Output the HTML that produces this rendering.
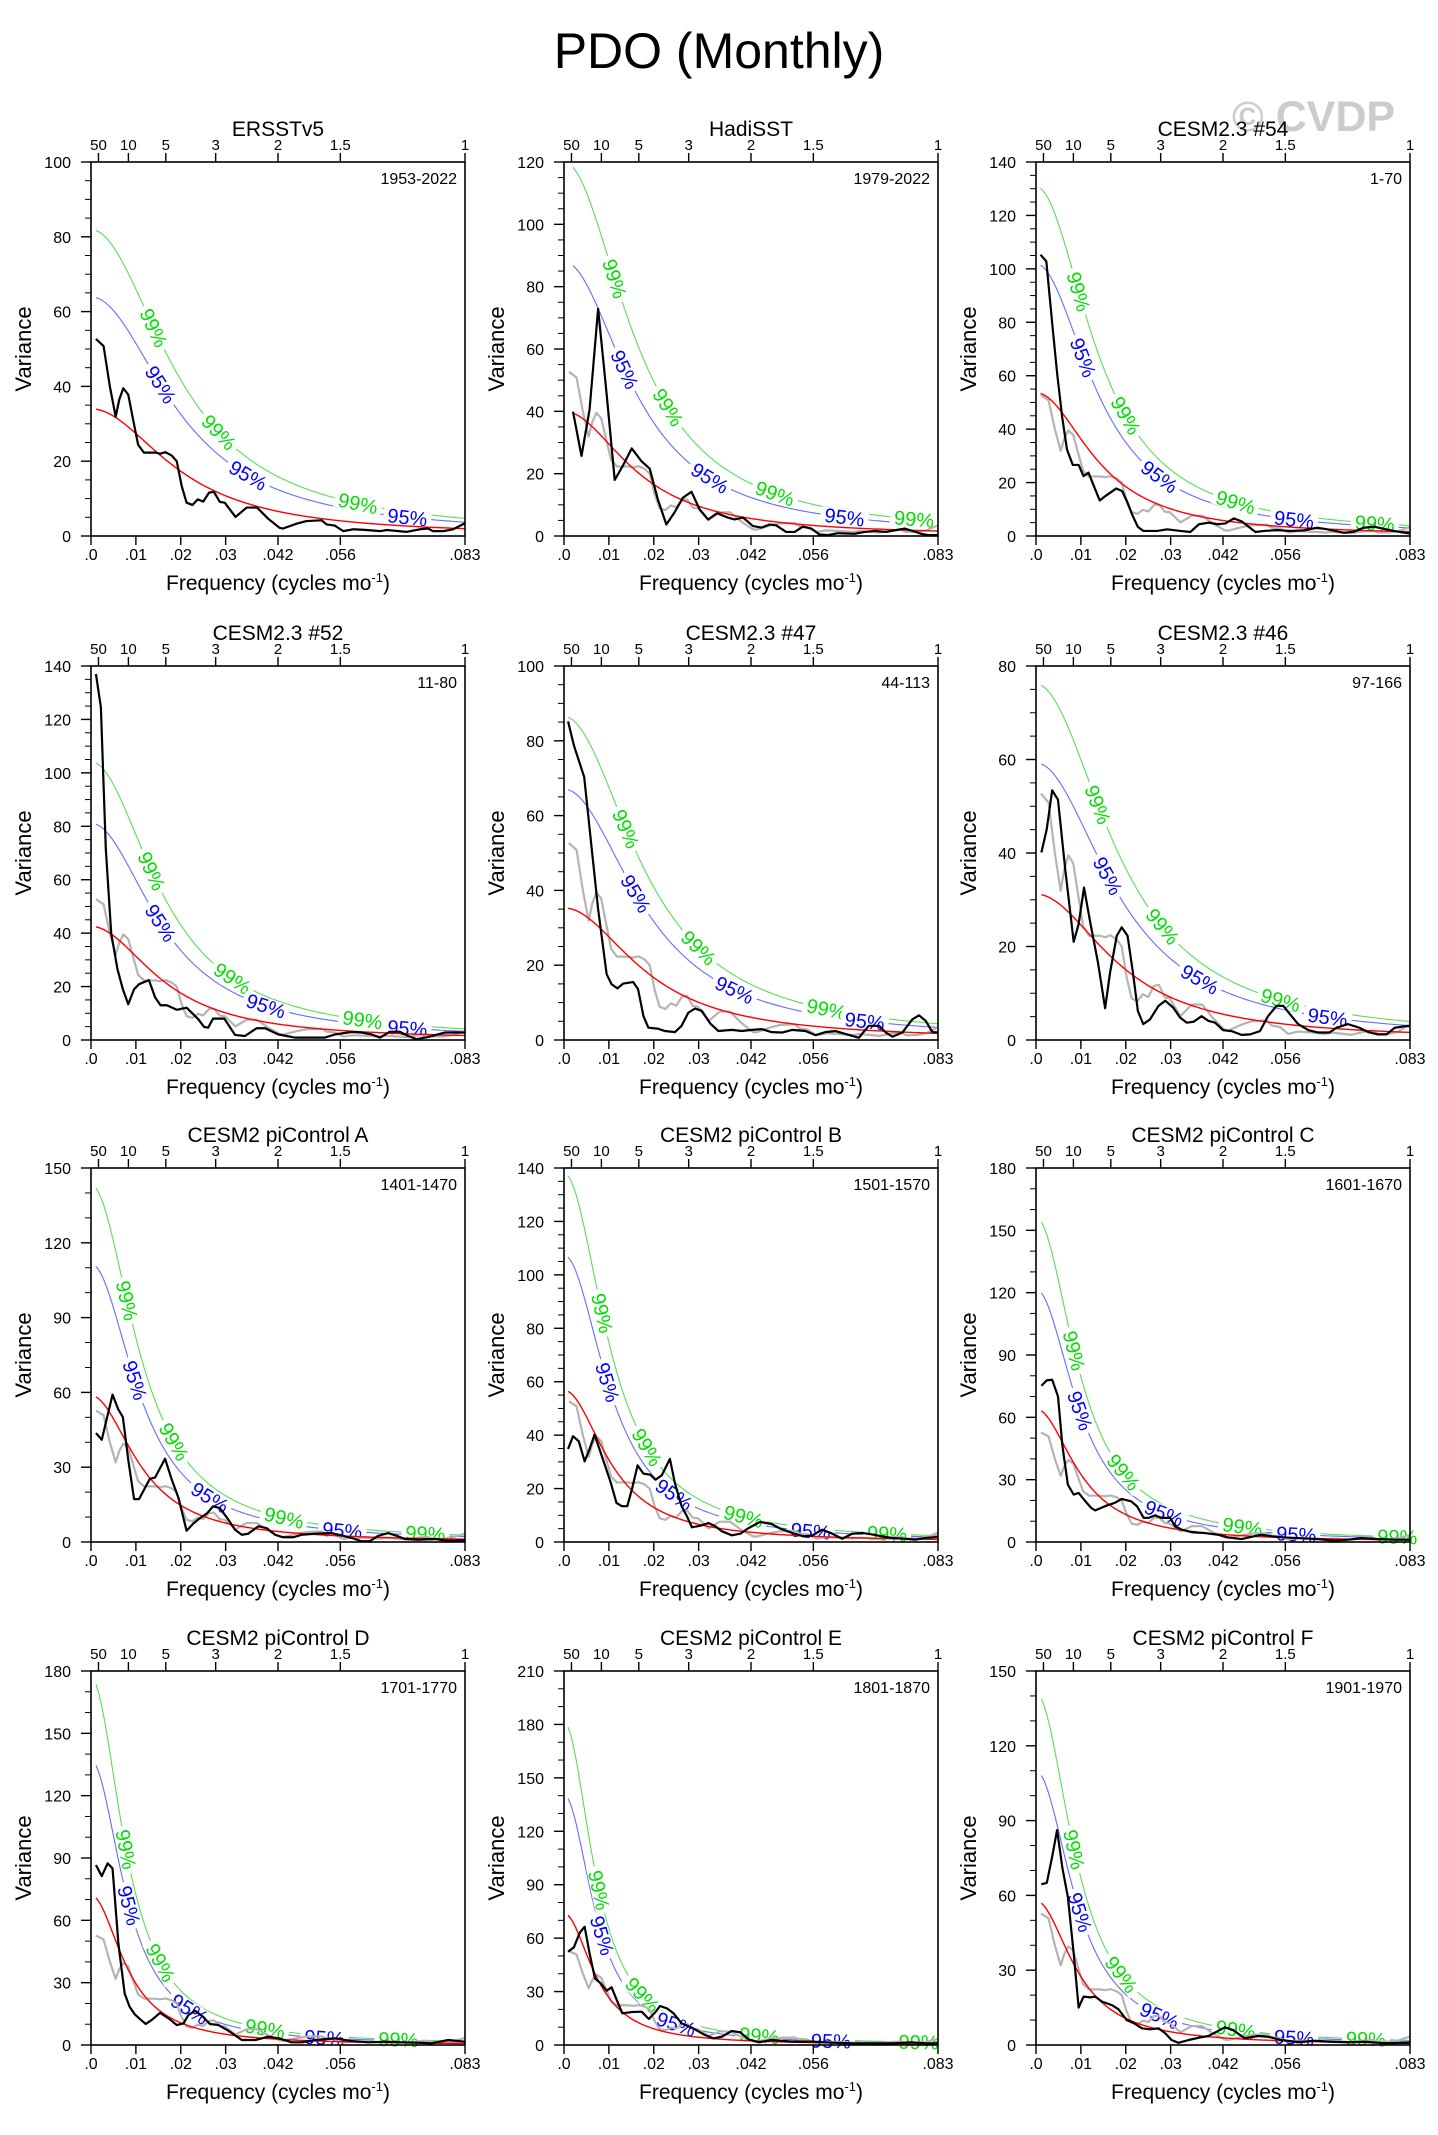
<!DOCTYPE html>
<html><head><meta charset="utf-8"><title>PDO (Monthly)</title>
<style>
html,body{margin:0;padding:0;background:#fff;}
svg{display:block;font-family:"Liberation Sans",Arial,sans-serif;}
</style></head>
<body>
<svg id="fig" xmlns="http://www.w3.org/2000/svg" width="1438" height="2135" viewBox="0 0 1438 2135">
<rect x="0" y="0" width="1438" height="2135" fill="#fff"/>
<text x="1232" y="131" font-size="43" font-weight="bold" fill="#cccccc">© CVDP</text>
<text x="719" y="68" font-size="50" text-anchor="middle" fill="#000">PDO (Monthly)</text>
</svg>
<script>
// ---- chart data ----
const titles=["ERSSTv5","HadiSST","CESM2.3 #54","CESM2.3 #52","CESM2.3 #47","CESM2.3 #46","CESM2 piControl A","CESM2 piControl B","CESM2 piControl C","CESM2 piControl D","CESM2 piControl E","CESM2 piControl F"];
const ranges=["1953-2022","1979-2022","1-70","11-80","44-113","97-166","1401-1470","1501-1570","1601-1670","1701-1770","1801-1870","1901-1970"];
const yMax=[100,120,140,140,100,80,150,140,180,180,210,150];
const yStep=[20,20,20,20,20,20,30,20,30,30,30,30];
const redS0=[34,40,53.6,42.5,35.3,31.2,58.7,56.8,64,72.1,73.9,57.8];
const redLag=[0.88,0.90,0.913,0.90,0.888,0.886,0.93,0.934,0.938,0.949,0.954,0.942];
const c95=[1.88,2.2,1.9,1.91,1.9,1.9,1.9,1.89,1.9,1.9,1.9,1.9];
const c99=[2.41,3.0,2.44,2.45,2.45,2.44,2.44,2.43,2.44,2.45,2.45,2.44];
const bottomTickVals=[0,0.01,0.02,0.03,1/24,1/18,1/12];
const bottomTickLabels=[".0",".01",".02",".03",".042",".056",".083"];
const topTickPeriods=[50,10,5,3,2,1.5,1];
const topTickLabels=["50","10","5","3","2","1.5","1"];

const f1=[.0011,.0028,.0042,.0055,.0063,.0072,.0083,.0094,.0105,.0118,.0143,.0154,.0166,.018,.0191,.0202,.0213,.0226,.0238,.025,.0263,.0274,.0287,.0298,.0322,.0347,.037,.0395,.042,.0428,.0458,.048,.0514,.0525,.0543,.0562,.0584,.0614,.0644,.0659,.0703,.0733,.0751,.0762,.0785,.0807,.0833];
const v1=[52.7,50.8,40,31.9,36.5,39.5,37.8,31,24.4,22.3,22.3,22,22.4,21.5,20,13.4,8.9,8.3,9.8,9.2,11.6,11.8,9.1,8.9,5.1,7.6,7.6,4.6,2.2,2.0,3.3,4,4.2,3.1,2.8,1.3,1.8,1.6,1.3,1.6,1.1,1.8,2,1.3,1.3,1.8,3.4];
const f2=[.002,.0039,.0057,.0076,.0094,.0113,.0131,.0151,.0172,.0191,.0209,.0228,.0246,.0265,.0284,.0302,.0321,.0341,.0365,.038,.0399,.0421,.044,.0458,.0473,.0495,.0514,.0532,.0551,.0569,.0588,.061,.0647,.067,.0692,.0718,.0736,.0759,.0777,.0796,.0811,.0833];
const v2=[39.9,25.7,40.6,72.9,47,18,22.5,28.1,24.1,21.6,11.8,3.7,7.5,12.3,14.2,8.6,5.3,7.3,5.9,5.3,5.9,3.2,2.7,3.7,3.4,1.3,1.3,3,2.4,.5,.3,.9,.7,1.3,1.6,1.3,1.8,2.4,1.6,.7,.3,.3];
const f3=[.001,.0023,.0036,.0047,.0058,.0069,.0082,.0095,.0106,.0117,.0129,.0142,.0155,.0179,.0192,.0203,.0214,.0227,.0239,.027,.0292,.0322,.0344,.0363,.0385,.0404,.0422,.0441,.0459,.0489,.0508,.0537,.0567,.0597,.0626,.0649,.0686,.0708,.073,.0753,.0775,.0797,.0833];
const v3=[105.3,102.8,79.8,61,44.9,32.4,26.6,26.6,22.4,23.7,18.7,13.3,15,17.8,16.8,12.8,8.1,3.4,1.9,1.9,2.5,1.9,1.5,4.4,5,4.4,4.7,6.6,5.4,1.5,1.9,2.2,1.9,2.1,3.1,2.5,1.2,1.6,3.1,3.5,2.7,1.9,.9];
const f4=[.0011,.0022,.0033,.0045,.0059,.0071,.0083,.0096,.0107,.0129,.0143,.0155,.0169,.0191,.0213,.0239,.0252,.0261,.0272,.0297,.0321,.0343,.0369,.0388,.0417,.0454,.0521,.0544,.0581,.0603,.0625,.0644,.0666,.0688,.0707,.0725,.0751,.0788,.0833];
const v4=[137,124.6,71.5,40,26.5,19,13.4,19,20.9,22.4,15.9,13,13,11.3,12.1,7.8,4.9,4.6,8,8,1.9,1.5,4.4,4.4,2.1,.9,.9,2.1,3,2.8,2.1,.9,3.1,3.1,1.5,.3,1.1,2.8,2.8];
const f5=[.0009,.0022,.0045,.0061,.0076,.0095,.0106,.0119,.0132,.0154,.0165,.0177,.0188,.021,.0225,.0247,.0262,.0277,.0292,.0307,.0326,.0344,.0374,.0396,.0419,.0441,.0463,.0486,.0508,.0538,.056,.0582,.0605,.0631,.0657,.0679,.0702,.0717,.0732,.0754,.0776,.0791,.0806,.0821,.0833];
const v5=[85.2,78.8,70.3,52,35,17.6,14.9,13.8,15.1,15.5,13.6,6.4,3.3,3,2.4,2.1,3.8,7.3,8.4,7.8,4.4,2.4,2.7,2.4,2.7,2.9,2.1,2,2.7,2.4,1.3,2.1,2.4,1.5,.6,3.8,3.8,2,.9,2,5.5,6.6,5.1,2.1,2];
const f6=[.0012,.0024,.0036,.0049,.0065,.0084,.0095,.0107,.0121,.0138,.0154,.0165,.018,.0191,.0204,.0216,.0227,.0239,.0254,.0273,.0288,.0306,.0321,.0336,.0351,.0369,.0384,.0399,.0417,.0436,.0458,.0477,.0499,.0517,.0536,.0551,.0566,.0584,.0607,.0629,.0654,.0669,.0695,.0721,.074,.0762,.0781,.0799,.0818,.0833];
const v6=[40.1,45.1,53.4,51.4,36.6,21,24.8,32.6,25.1,16.6,6.8,14.4,22.3,24.1,22.3,14.4,6.2,3.4,4.4,7.3,8.4,6.9,4.8,3.7,3.9,5.1,4.1,3.7,2.1,1.9,1.1,1.2,1.9,5.1,7.3,7.3,5.5,3.4,2.1,1.6,1.6,2.6,3.4,2.6,1.7,1.2,1.2,2.6,2.9,3];
const f7=[.0011,.0024,.0048,.0061,.0071,.0083,.0096,.0107,.0131,.0143,.0165,.018,.0195,.0213,.0228,.0243,.0258,.0272,.0287,.0306,.0321,.0336,.035,.0373,.0391,.041,.0428,.0451,.0469,.0499,.0536,.0562,.0581,.0603,.0621,.064,.0662,.0681,.0699,.0729,.0766,.0796,.0833];
const v7=[43.7,41,59.1,53.1,50.1,33,17.2,17.2,25.3,25.9,33.4,25,17.6,4.5,7.4,9.6,11.4,14.3,13.6,9,4.9,2.9,3.3,6.3,5.6,2.9,1.9,1.9,2.9,3.3,3.6,2.5,1.6,.3,.3,2.5,3.6,2.5,1.2,.9,1.2,.5,.7];
const f8=[.0009,.002,.0033,.0046,.0057,.0068,.0082,.0104,.0117,.0129,.0141,.0152,.0164,.0177,.0192,.0204,.0218,.0236,.0247,.0262,.0274,.0285,.0304,.0322,.0337,.0352,.0374,.0393,.0411,.0437,.0463,.0482,.0508,.0534,.0553,.0575,.0594,.062,.0642,.0665,.0691,.0709,.0731,.0761,.0783,.0806,.0833];
const v8=[34.8,39.6,37.7,30.2,34.8,40.2,33.3,22.3,14.6,13.4,13.4,20.2,28.7,25.6,25.2,23.3,25,31.1,22.1,13.4,9.6,5.5,6.1,7.1,5.9,4,2.5,3.1,5.2,7.5,6.7,5,3.4,2.1,2.4,4.6,3.4,1.2,3.1,3.4,2.7,2.1,1.5,1.2,.9,1.5,1.9];
const f9=[.0012,.0024,.0036,.0049,.0059,.0071,.0084,.0095,.011,.0123,.0132,.0158,.0175,.0191,.0212,.0225,.024,.0251,.0265,.028,.0299,.031,.0325,.0347,.0376,.0406,.0428,.0458,.0484,.0502,.0525,.0554,.0584,.0628,.0666,.0695,.0725,.0762,.0799,.0833];
const v9=[75.2,77.8,78.1,70.1,46,27.6,22.8,23.6,19.6,16.4,15.2,17.6,18.8,20.7,19.6,17.2,11.6,11.6,12.8,11.6,11.6,7.5,5.9,4.7,4.3,3.5,2.2,1.4,2.7,3.5,2.7,2.2,1.9,1.4,.6,1.1,1.9,1.4,1.1,1.1];
const f10=[.0011,.0024,.0037,.0048,.0061,.0075,.0086,.0097,.011,.0122,.0135,.0154,.0173,.0191,.0206,.0217,.0232,.0248,.0265,.0284,.0306,.0336,.0366,.0395,.0418,.0447,.047,.0499,.0544,.0581,.0618,.0655,.0692,.073,.0759,.0796,.0833];
const v10=[86.6,81.3,87.4,85,48.9,24.8,18.4,14.9,12.3,10.1,12,15.5,12.8,9.6,10.4,14.4,16.5,13.9,10.1,9.6,6.9,2.4,2.4,4,3.2,1.3,1.3,2.4,3.2,1.9,1.3,1.6,1.3,1.1,.8,2.4,1.6];
const f11=[.0009,.0022,.0035,.0046,.0057,.0069,.0082,.0095,.0106,.0117,.013,.0151,.0173,.0189,.0203,.0214,.0229,.0244,.0262,.0285,.0314,.0333,.0352,.0374,.0393,.0411,.0434,.0463,.0508,.0553,.0598,.0642,.0687,.0732,.0776,.0806,.0833];
const v11=[52.4,54.8,63,66.4,51.4,37.4,34.6,30.5,32.4,25.6,17.8,18.5,18.7,14.6,18.3,21.9,20.6,17.8,12.2,9.7,5.6,3.7,4.7,7.9,7.1,3.2,1.5,2.8,1.9,1.9,1.3,.9,.9,.9,1.5,.9,.9];
const f12=[.0012,.0024,.0036,.0047,.0059,.0071,.0084,.0095,.0106,.0121,.0132,.0147,.0169,.0184,.0202,.0217,.0236,.0254,.0273,.0288,.0302,.0317,.034,.0362,.0384,.0402,.0421,.0439,.0465,.0495,.0517,.0547,.0584,.0621,.0658,.0695,.0732,.0777,.0833];
const v12=[64.5,65,75.5,86.2,70.8,59.4,36.7,15,19.4,19.1,19.4,17.4,16,14.3,10,8.9,6.7,6.3,6.7,4.7,2,.9,2,2.9,3.6,5.3,7.1,6,2.7,3.6,3.3,2,1.1,1.7,1.3,1.1,1.3,.7,.9];

const lab99=[[.014,.0285,.0595],[.0113,.0232,.047,.078],[.0095,.02,.0445,.0755],[.0135,.0315,.0605],[.0138,.03,.0585],[.0138,.0282,.0545],[.008,.0185,.043,.0745],[.0085,.0185,.04,.072],[.0085,.0195,.046,.0805],[.0078,.0155,.0388,.0685],[.0078,.0175,.0435,.079],[.0085,.019,.0445,.0735]];
const lab95=[[.0155,.035,.0705],[.0135,.0325,.0625],[.0105,.0275,.0575],[.0155,.039,.0705],[.016,.038,.067],[.016,.0365,.065],[.0098,.0265,.056],[.0097,.0245,.055],[.0098,.0285,.058],[.0085,.022,.052],[.0085,.025,.0595],[.0098,.0275,.0575]];

const freqSets=[f1,f2,f3,f4,f5,f6,f7,f8,f9,f10,f11,f12];
const valSets=[v1,v2,v3,v4,v5,v6,v7,v8,v9,v10,v11,v12];

// ---- layout ----
const NS="http://www.w3.org/2000/svg";
const svg=document.getElementById('fig');
const colX=[91,564,1036], rowY=[162,666,1168,1671];
const PW=374, PH=374, FMAX=1/12;

function mk(tag,attrs,parent,text){
  const e=document.createElementNS(NS,tag);
  for(const k in attrs) e.setAttribute(k,attrs[k]);
  if(text!==undefined) e.textContent=text;
  (parent||svg).appendChild(e);
  return e;
}
function redVal(p,f){
  const r=redLag[p];
  return redS0[p]*(1-r)*(1-r)/(1+r*r-2*r*Math.cos(2*Math.PI*f));
}

for(let p=0;p<12;p++){
  const L=colX[p%3], T=rowY[Math.floor(p/3)];
  const xS=f=>L+f/FMAX*PW;
  const yS=v=>T+PH-v/yMax[p]*PH;
  const g=mk('g',{});
  
  
  const fr=freqSets[p], vr=valSets[p];
  const f0=fr[0];

  const curvePath=(mult)=>{
    let d='';
    for(let k=0;k<=140;k++){const f=f0+(FMAX-f0)*k/140;d+=(k?'L':'M')+xS(f).toFixed(2)+' '+yS(redVal(p,f)*mult).toFixed(2);}
    return d;
  };
  const l99=mk('path',{d:curvePath(c99[p]),fill:'none',stroke:'#55e055','stroke-width':1.1},g);
  
  
  const l95=mk('path',{d:curvePath(c95[p]),fill:'none',stroke:'#6a6aff','stroke-width':1.1},g);
  
  

  const addLabels=(list,mult,txt,col,nm)=>{
    list.forEach(fl=>{
      const x=xS(fl), y=yS(redVal(p,fl)*mult);
      const x1=xS(fl-0.0006), y1=yS(redVal(p,fl-0.0006)*mult);
      const x2=xS(fl+0.0006), y2=yS(redVal(p,fl+0.0006)*mult);
      const ang=Math.atan2(y2-y1,x2-x1)*180/Math.PI;
      const lg=mk('g',{transform:'translate('+x.toFixed(1)+','+y.toFixed(1)+') rotate('+ang.toFixed(1)+')'},g);
      
      
      mk('rect',{x:-24,y:-8,width:48,height:16,fill:'#fff'},lg);
      mk('text',{x:0,y:7,'font-size':20,'text-anchor':'middle',fill:col},lg,txt);
    });
  };
  addLabels(lab99[p],c99[p],'99%','#00dd00','label-99pct');
  addLabels(lab95[p],c95[p],'95%','#0000ff','label-95pct');

  if(p>0){
    let d='';
    for(let k=0;k<Math.min(f1.length,v1.length);k++){d+=(k?'L':'M')+xS(f1[k]).toFixed(2)+' '+yS(v1[k]).toFixed(2);}
    const gl=mk('path',{d:d,fill:'none',stroke:'#b4b4b4','stroke-width':2.2,'stroke-linejoin':'round'},g);
    
    
  }
  {
    let d='';
    for(let k=0;k<=140;k++){const f=f0+(FMAX-f0)*k/140;d+=(k?'L':'M')+xS(f).toFixed(2)+' '+yS(redVal(p,f)).toFixed(2);}
    const rl=mk('path',{d:d,fill:'none',stroke:'#ff0000','stroke-width':1.4},g);
    
    
  }
  {
    let d='';
    for(let k=0;k<Math.min(fr.length,vr.length);k++){d+=(k?'L':'M')+xS(fr[k]).toFixed(2)+' '+yS(vr[k]).toFixed(2);}
    const sl=mk('path',{d:d,fill:'none',stroke:'#000','stroke-width':2.2,'stroke-linejoin':'round'},g);
    
    
  }

  const fm=mk('rect',{x:L,y:T,width:PW,height:PH,fill:'none',stroke:'#000','stroke-width':1.6},g);
  
  

  const minor=yStep[p]===20?5:10;
  for(let v=0;v<=yMax[p]+1e-6;v+=minor){
    const y=yS(v);const isMaj=Math.abs(v/yStep[p]-Math.round(v/yStep[p]))<1e-6;
    mk('line',{x1:L,x2:L-(isMaj?10:6),y1:y,y2:y,stroke:'#000','stroke-width':isMaj?1.4:1},g);
    if(isMaj){
      const t=mk('text',{x:L-20,y:y+6,'font-size':16,'text-anchor':'end',fill:'#000'},g,String(v));
      
      
    }
  }
  bottomTickVals.forEach((f,k)=>{
    const x=xS(f);
    mk('line',{x1:x,x2:x,y1:T+PH,y2:T+PH+9,stroke:'#000','stroke-width':1.4},g);
    const t=mk('text',{x:x,y:T+PH+24,'font-size':16,'text-anchor':'middle',fill:'#000'},g,bottomTickLabels[k]);
    
    
  });
  topTickPeriods.forEach((P,k)=>{
    const x=xS(1/(12*P));
    mk('line',{x1:x,x2:x,y1:T,y2:T-9,stroke:'#000','stroke-width':1.4},g);
    const t=mk('text',{x:x,y:T-12,'font-size':15,'text-anchor':'middle',fill:'#000'},g,topTickLabels[k]);
    
    
  });
  const tt=mk('text',{x:L+PW/2,y:T-26,'font-size':21,'text-anchor':'middle',fill:'#000'},g,titles[p]);
  
  
  const rt=mk('text',{x:L+PW-8,y:T+22,'font-size':16,'text-anchor':'end',fill:'#000'},g,ranges[p]);
  
  
  const yt=mk('text',{x:0,y:0,'font-size':22,'text-anchor':'middle',fill:'#000',transform:'translate('+(L-60)+','+(T+PH/2)+') rotate(-90)'},g,'Variance');
  
  
  const xt=mk('text',{x:L+PW/2,y:T+PH+54,'font-size':21,'text-anchor':'middle',fill:'#000'},g);
  
  
  mk('tspan',{},xt,'Frequency (cycles mo');
  mk('tspan',{dy:-8,'font-size':13},xt,'-1');
  mk('tspan',{dy:8},xt,')');
}
</script>
</body></html>
